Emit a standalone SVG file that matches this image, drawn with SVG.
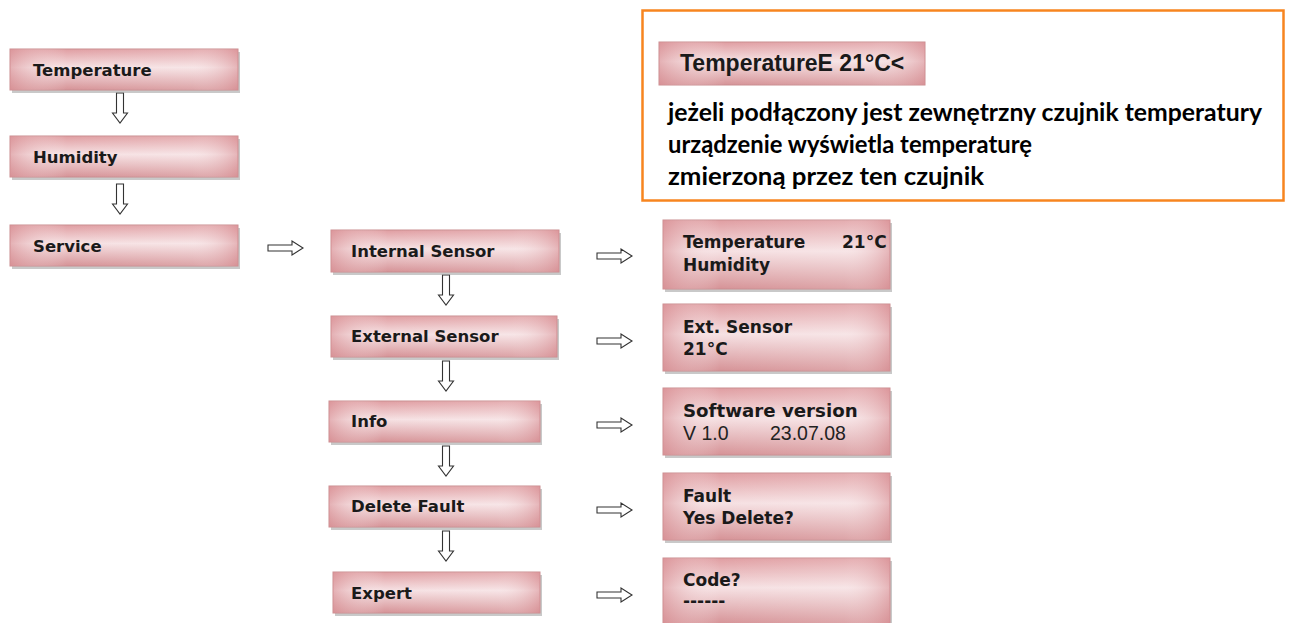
<svg xmlns="http://www.w3.org/2000/svg" width="1289" height="623" viewBox="0 0 1289 623">
<defs>
<linearGradient id="gv" x1="0" y1="0" x2="0" y2="1">
<stop offset="0" stop-color="#e09ea2"/>
<stop offset="0.45" stop-color="#f6e1e3"/>
<stop offset="1" stop-color="#d69397"/>
</linearGradient>
<linearGradient id="gh" x1="0" y1="0" x2="1" y2="0">
<stop offset="0" stop-color="#d88f94" stop-opacity="0.6"/>
<stop offset="0.25" stop-color="#ffffff" stop-opacity="0"/>
<stop offset="0.8" stop-color="#ffffff" stop-opacity="0.15"/>
<stop offset="1" stop-color="#d88f94" stop-opacity="0.55"/>
</linearGradient>
<g id="ra"><path d="M0,-3 H24 V-7 L35,0 L24,7 V3 H0 Z"/></g>
<g id="da"><path d="M-3.5,0 V20 H-7.5 L0,30 L7.5,20 H3.5 V0 Z"/></g>
</defs>
<style>
.sh{fill:#9c9c9c;opacity:0.55}
.b1{fill:url(#gv);stroke:#c98d90;stroke-width:1}
.b2{fill:url(#gh)}
.t{font-family:"DejaVu Sans",Verdana,sans-serif;font-weight:bold;font-size:16.5px;fill:#1a1a1a}
.tr{font-family:"DejaVu Sans",Verdana,sans-serif;font-weight:bold;font-size:17px;fill:#1a1a1a}
.tn{font-family:"Liberation Sans",Arial,sans-serif;font-size:19.5px;fill:#222}
.ar use,.ar path{fill:#ffffff;stroke:#333;stroke-width:1.1}
.pl{font-family:Lato,"Noto Sans",sans-serif;font-weight:bold;font-size:24px;fill:#000}
</style>
<rect width="1289" height="623" fill="#ffffff"/>

<g id="connectors" class="ar">
<use href="#da" x="120" y="93"/>
<use href="#da" x="120" y="184"/>
<use href="#ra" x="268" y="248"/>
<use href="#ra" x="597" y="256"/>
<use href="#ra" x="597" y="341"/>
<use href="#ra" x="597" y="425"/>
<use href="#ra" x="597" y="510"/>
<use href="#ra" x="597" y="595"/>
<use href="#da" x="446" y="275"/>
<use href="#da" x="446" y="361"/>
<use href="#da" x="446" y="446"/>
<use href="#da" x="446" y="531"/>
</g>

<g id="n-temperature"><rect class="sh" x="12" y="52" width="228" height="41"/><rect class="b1" x="10" y="49" width="228" height="41"/><rect class="b2" x="10" y="49" width="228" height="41"/><text class="t" x="33" y="76">Temperature</text></g>
<g id="n-humidity"><rect class="sh" x="12" y="139" width="228" height="41"/><rect class="b1" x="10" y="136" width="228" height="41"/><rect class="b2" x="10" y="136" width="228" height="41"/><text class="t" x="33" y="163">Humidity</text></g>
<g id="n-service"><rect class="sh" x="12" y="228" width="228" height="41"/><rect class="b1" x="10" y="225" width="228" height="41"/><rect class="b2" x="10" y="225" width="228" height="41"/><text class="t" x="33" y="252">Service</text></g>

<g id="n-internal"><rect class="sh" x="333" y="233" width="228" height="42"/><rect class="b1" x="331" y="230" width="228" height="42"/><rect class="b2" x="331" y="230" width="228" height="42"/><text class="t" x="351" y="257">Internal Sensor</text></g>
<g id="n-external"><rect class="sh" x="333" y="319" width="226" height="41"/><rect class="b1" x="331" y="316" width="226" height="41"/><rect class="b2" x="331" y="316" width="226" height="41"/><text class="t" x="351" y="342">External Sensor</text></g>
<g id="n-info"><rect class="sh" x="331" y="404" width="211" height="41"/><rect class="b1" x="329" y="401" width="211" height="41"/><rect class="b2" x="329" y="401" width="211" height="41"/><text class="t" x="351" y="427">Info</text></g>
<g id="n-delete"><rect class="sh" x="331" y="489" width="211" height="41"/><rect class="b1" x="329" y="486" width="211" height="41"/><rect class="b2" x="329" y="486" width="211" height="41"/><text class="t" x="351" y="512">Delete Fault</text></g>
<g id="n-expert"><rect class="sh" x="335" y="575" width="207" height="41"/><rect class="b1" x="333" y="572" width="207" height="41"/><rect class="b2" x="333" y="572" width="207" height="41"/><text class="t" x="351" y="599">Expert</text></g>

<g id="d-temphum"><rect class="sh" x="665" y="223" width="227" height="69"/><rect class="b1" x="663" y="220" width="227" height="69"/><rect class="b2" x="663" y="220" width="227" height="69"/><text class="tr" x="683" y="248">Temperature</text><text class="tr" x="842" y="248">21°C</text><text class="tr" x="683" y="271">Humidity</text></g>
<g id="d-ext"><rect class="sh" x="665" y="307" width="227" height="67"/><rect class="b1" x="663" y="304" width="227" height="67"/><rect class="b2" x="663" y="304" width="227" height="67"/><text class="tr" x="683" y="333">Ext. Sensor</text><text class="tr" x="683" y="355">21°C</text></g>
<g id="d-sw"><rect class="sh" x="665" y="391" width="227" height="67"/><rect class="b1" x="663" y="388" width="227" height="67"/><rect class="b2" x="663" y="388" width="227" height="67"/><text class="tr" x="683" y="417" style="font-size:18.2px">Software version</text><text class="tn" x="683" y="440">V 1.0</text><text class="tn" x="770" y="440">23.07.08</text></g>
<g id="d-fault"><rect class="sh" x="665" y="476" width="227" height="67"/><rect class="b1" x="663" y="473" width="227" height="67"/><rect class="b2" x="663" y="473" width="227" height="67"/><text class="tr" x="683" y="502">Fault</text><text class="tr" x="683" y="524">Yes Delete?</text></g>
<g id="d-code"><rect class="sh" x="665" y="561" width="227" height="64"/><rect class="b1" x="663" y="558" width="227" height="66"/><rect class="b2" x="663" y="558" width="227" height="66"/><text class="tr" x="683" y="586">Code?</text><text class="tr" x="683" y="607">------</text></g>

<g id="note">
<rect x="642.5" y="10.5" width="641" height="190" fill="#ffffff" stroke="#f7851f" stroke-width="2.5"/>
<g id="note-display"><rect class="b1" x="659" y="42" width="266" height="43"/><rect class="b2" x="659" y="42" width="266" height="43"/><text x="680" y="71" font-family="Liberation Sans, Arial, sans-serif" font-weight="bold" font-size="23" fill="#1a1a1a">TemperatureE 21°C&lt;</text></g>
<text class="pl" x="668" y="121" textLength="594" lengthAdjust="spacingAndGlyphs">jeżeli podłączony jest zewnętrzny czujnik temperatury</text>
<text class="pl" x="668" y="153" textLength="364" lengthAdjust="spacingAndGlyphs">urządzenie wyświetla temperaturę</text>
<text class="pl" x="668" y="185" textLength="316" lengthAdjust="spacingAndGlyphs">zmierzoną przez ten czujnik</text>
</g>
</svg>
